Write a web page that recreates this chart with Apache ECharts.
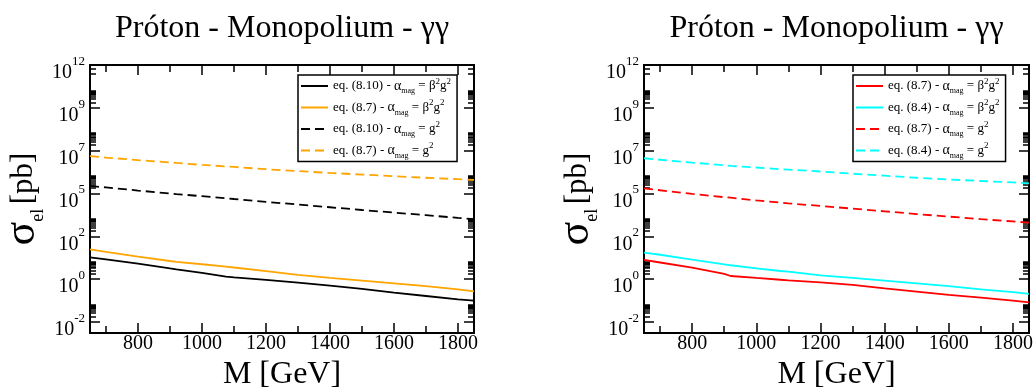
<!DOCTYPE html>
<html><head><meta charset="utf-8">
<script src="https://cdn.jsdelivr.net/npm/echarts@6/dist/echarts.min.js"></script>
<style>html,body{margin:0;padding:0;background:#fff}#c{width:1035px;height:387px}</style>
</head><body><div id="c"></div>
<script>
// ---------- data, sigma in pb ----------
const massGeV = [650, 700, 800, 900, 920, 1000, 1075, 1100, 1200, 1300, 1400, 1500, 1600, 1700, 1800, 1850];

// left panel
const eq810_b2g2 = [33, 26, 15, 8.3, 7.4, 4.8, 2.95, 2.7, 1.95, 1.41, 0.95, 0.63, 0.40, 0.26, 0.17, 0.145];
const eq87_b2g2_left = [91, 66, 36, 21, 19, 14, 10.5, 9.3, 5.9, 3.7, 2.5, 1.78, 1.26, 0.89, 0.60, 0.47];
const eq810_g2 = [2.57e5, 2.14e5, 1.45e5, 1.0e5, 9.3e4, 7.1e4, 5.5e4, 5.0e4, 3.5e4, 2.5e4, 1.78e4, 1.26e4, 9.1e3, 6.6e3, 4.7e3, 4.0e3];
const eq87_g2_left = [1.1e7, 9.1e6, 6.6e6, 4.9e6, 4.6e6, 3.6e6, 3.0e6, 2.8e6, 2.1e6, 1.66e6, 1.32e6, 1.07e6, 8.7e5, 7.2e5, 6.0e5, 5.5e5];

// right panel
const eq87_b2g2_right = [24, 17.4, 9.1, 4.2, 3.2, 2.5, 2.0, 1.86, 1.45, 1.05, 0.68, 0.45, 0.30, 0.21, 0.145, 0.117];
const eq84_b2g2 = [60, 46, 25, 13.8, 12.3, 8.3, 6.0, 5.5, 3.5, 2.5, 1.78, 1.26, 0.89, 0.60, 0.42, 0.34];
const eq87_g2_right = [1.9e5, 1.5e5, 9.5e4, 6.3e4, 5.9e4, 4.2e4, 3.2e4, 2.9e4, 2.1e4, 1.5e4, 1.07e4, 7.6e3, 5.5e3, 4.0e3, 3.0e3, 2.6e3];
const eq84_g2 = [8.3e6, 6.9e6, 4.8e6, 3.5e6, 3.2e6, 2.6e6, 2.1e6, 2.0e6, 1.58e6, 1.2e6, 9.3e5, 7.2e5, 5.8e5, 4.8e5, 4.0e5, 3.6e5];

// ticks and labels (y axis is in decades: log10 of sigma)
const xMajorTicks = [800, 1000, 1200, 1400, 1600, 1800];
const xMinorTicks = [700, 900, 1100, 1300, 1500, 1700];
const yMajorExp = [-2, 1/3, 8/3, 5, 22/3, 29/3, 12];
const yTickLabels = ['-2', '0', '2', '5', '7', '9', '12'];
const yExtraMinorExp = [11.55, 11.78];
const xMin = 650, xMax = 1850, yMinExp = -2.6, yMaxExp = 12;

const titleText = 'Próton - Monopolium - γγ';
const legendNames = {
  L1: ['eq. (8.10)', 'b2g2'], L2: ['eq. (8.7)', 'b2g2'], L3: ['eq. (8.10)', 'g2'], L4: ['eq. (8.7)', 'g2'],
  R1: ['eq. (8.7)', 'b2g2'], R2: ['eq. (8.4)', 'b2g2'], R3: ['eq. (8.7)', 'g2'], R4: ['eq. (8.4)', 'g2']
};

// ---------- derived tick positions ----------
const yMinorExp = [];
yMajorExp.forEach(e => { for (let k = 2; k <= 9; k++) { const v = e + Math.log10(k); if (v < 11.99) yMinorExp.push(v); } });
yExtraMinorExp.forEach(e => yMinorExp.push(e));

const FONT = "'Liberation Serif','DejaVu Serif',serif";
const BLACK = '#000';
const tickStyle = { color: BLACK, width: 1.5 };

function yLabelFmt(value) {
  let best = 0;
  yMajorExp.forEach((m, i) => { if (Math.abs(m - value) < Math.abs(yMajorExp[best] - value)) best = i; });
  return '{b|10}{s|' + yTickLabels[best] + '}';
}

function xAx(g, pos, vals, len, labels, withName) {
  return {
    type: 'value', gridIndex: g, position: pos, min: xMin, max: xMax,
    axisLine: { show: false, onZero: false }, splitLine: { show: false },
    axisTick: { show: true, inside: true, length: len, lineStyle: tickStyle, customValues: vals },
    axisLabel: labels ? { show: true, customValues: vals, formatter: v => String(v), margin: 1,
      showMinLabel: true, showMaxLabel: true, fontSize: 20, fontFamily: FONT, color: BLACK } : { show: false },
    name: withName ? 'M [GeV]' : '', nameLocation: 'middle', nameGap: 22,
    nameTextStyle: { fontSize: 32, fontFamily: FONT, color: BLACK }
  };
}
function yAx(g, pos, vals, len, labels, withName) {
  return {
    type: 'value', gridIndex: g, position: pos, min: yMinExp, max: yMaxExp,
    axisLine: { show: false, onZero: false }, splitLine: { show: false },
    minorTick: { show: false }, minorSplitLine: { show: false },
    axisTick: { show: true, inside: true, length: len, lineStyle: tickStyle, customValues: vals },
    axisLabel: labels ? {
      show: true, customValues: vals, formatter: yLabelFmt, margin: 5, padding: [8, 0, 0, 0],
      showMinLabel: true, showMaxLabel: true, hideOverlap: false,
      color: BLACK, fontFamily: FONT,
      rich: {
        b: { fontSize: 20, verticalAlign: 'bottom', fontFamily: FONT, color: BLACK },
        s: { fontSize: 13, lineHeight: 28, verticalAlign: 'top', fontFamily: FONT, color: BLACK }
      }
    } : { show: false },
    name: withName ? '{s|σ}{e|el }{p|[pb]}' : '', nameLocation: 'middle', nameRotate: 90, nameGap: 43,
    nameTextStyle: {
      color: BLACK, fontFamily: FONT,
      rich: {
        s: { fontSize: 44, lineHeight: 36, verticalAlign: 'top', fontFamily: FONT, color: BLACK },
        e: { fontSize: 18, lineHeight: 16, verticalAlign: 'bottom', fontFamily: FONT, color: BLACK },
        p: { fontSize: 31, lineHeight: 47, verticalAlign: 'middle', fontFamily: FONT, color: BLACK }
      }
    }
  };
}

const xAxes = [], yAxes = [];
[0, 1].forEach(g => {
  xAxes.push(xAx(g, 'bottom', xMajorTicks, 10, true, true));
  xAxes.push(xAx(g, 'bottom', xMinorTicks, 7, false, false));
  xAxes.push(xAx(g, 'top', xMajorTicks, 10, false, false));
  xAxes.push(xAx(g, 'top', xMinorTicks, 7, false, false));
  yAxes.push(yAx(g, 'left', yMajorExp, 10, true, true));
  yAxes.push(yAx(g, 'left', yMinorExp, 6, false, false));
  yAxes.push(yAx(g, 'right', yMajorExp, 10, false, false));
  yAxes.push(yAx(g, 'right', yMinorExp, 6, false, false));
});

function ser(name, g, vals, color, dashed) {
  return {
    name, type: 'line', xAxisIndex: g * 4, yAxisIndex: g * 4,
    data: massGeV.map((m, i) => [m, Math.log10(vals[i])]),
    symbol: 'none', showSymbol: false, animation: false, silent: true,
    lineStyle: { color, width: 1.8, type: dashed ? [9, 5] : 'solid' },
    itemStyle: { color }
  };
}

function legendFmt(name) {
  const [eq, kind] = legendNames[name];
  const head = '{t|' + eq + ' - }{g|α}{sub|mag}';
  return kind === 'b2g2' ? head + '{t| = β}{sup|2}{t|g}{sup|2}' : head + '{t| = g}{sup|2}';
}
const legendRich = {
  t: { fontSize: 13, lineHeight: 18, fontFamily: FONT, color: BLACK },
  g: { fontSize: 14, lineHeight: 18, fontFamily: FONT, color: BLACK },
  sub: { fontSize: 8, lineHeight: 8, verticalAlign: 'bottom', fontFamily: FONT, color: BLACK },
  sup: { fontSize: 9, lineHeight: 8, verticalAlign: 'top', fontFamily: FONT, color: BLACK }
};
function legend(names, left) {
  return {
    data: names, left, top: 75, orient: 'vertical', itemWidth: 27, itemHeight: 14, itemGap: 3.5,
    padding: [2, 6, 2, 2], borderColor: BLACK, borderWidth: 1.5, backgroundColor: '#fff',
    selectedMode: false, formatter: legendFmt,
    itemStyle: { opacity: 0 },
    textStyle: { fontFamily: FONT, fontSize: 13, color: BLACK, rich: legendRich }
  };
}

const titleStyle = { fontFamily: FONT, fontSize: 32, fontWeight: 'normal', color: BLACK };
const gridCommon = { show: true, borderColor: BLACK, borderWidth: 2, backgroundColor: 'transparent',
  containLabel: false, outerBoundsMode: 'none' };

const option = {
  backgroundColor: '#fff',
  animation: false,
  title: [
    { text: titleText, left: 282, top: 13, textAlign: 'center', padding: 0, textStyle: titleStyle },
    { text: titleText, left: 836.5, top: 13, textAlign: 'center', padding: 0, textStyle: titleStyle }
  ],
  grid: [
    Object.assign({ left: 90, top: 65, width: 384, height: 268 }, gridCommon),
    Object.assign({ left: 644, top: 65, width: 385, height: 268 }, gridCommon)
  ],
  legend: [legend(['L1', 'L2', 'L3', 'L4'], 298), legend(['R1', 'R2', 'R3', 'R4'], 853)],
  xAxis: xAxes,
  yAxis: yAxes,
  series: [
    ser('L1', 0, eq810_b2g2, '#000000', false),
    ser('L2', 0, eq87_b2g2_left, '#FFA500', false),
    ser('L3', 0, eq810_g2, '#000000', true),
    ser('L4', 0, eq87_g2_left, '#FFA500', true),
    ser('R1', 1, eq87_b2g2_right, '#FF0000', false),
    ser('R2', 1, eq84_b2g2, '#00FFFF', false),
    ser('R3', 1, eq87_g2_right, '#FF0000', true),
    ser('R4', 1, eq84_g2, '#00FFFF', true)
  ]
};
const chart = echarts.init(document.getElementById('c'), null, { renderer: 'canvas' });
chart.setOption(option);
</script></body></html>
